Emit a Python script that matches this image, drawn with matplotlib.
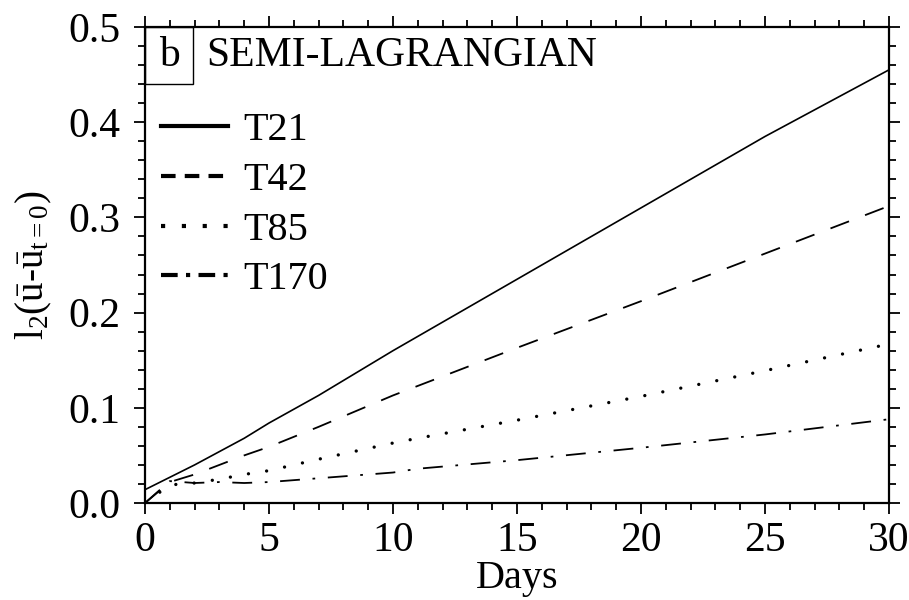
import numpy as np
import matplotlib
matplotlib.use('Agg')
import matplotlib.pyplot as plt
from matplotlib.patches import Rectangle
from matplotlib.ticker import MultipleLocator

plt.rcParams['font.family'] = ['Liberation Serif', 'DejaVu Serif']
plt.rcParams['mathtext.fontset'] = 'custom'
plt.rcParams['mathtext.rm'] = 'Liberation Serif'
plt.rcParams['mathtext.it'] = 'Liberation Serif:italic'

days = [0, 1, 2, 3, 4, 5, 7, 10, 11, 15, 20, 25, 30]
t21 = [0.014, 0.027, 0.040, 0.054, 0.068, 0.084, 0.113, 0.160, 0.175, 0.235, 0.310, 0.385, 0.455]
t42 = [0.000, 0.022, 0.030, 0.040, 0.050, 0.059, 0.080, 0.113, 0.123, 0.163, 0.212, 0.262, 0.312]
t85 = [0.000, 0.019, 0.021, 0.025, 0.030, 0.034, 0.046, 0.063, 0.068, 0.087, 0.112, 0.139, 0.167]
t170 = [0.000, 0.023, 0.021, 0.022, 0.021, 0.022, 0.026, 0.032, 0.036, 0.045, 0.058, 0.072, 0.088]
labels = ['T21', 'T42', 'T85', 'T170']

fig = plt.figure(figsize=(9.09, 6), dpi=100)
ax = fig.add_axes([145/909, 1-503/600, (889-145)/909, (503-27)/600])

ax.plot(days, t21, color='k', lw=1.2, linestyle='-')
ax.plot(days, t42, color='k', lw=1.3, linestyle=(0, (11, 9.5)))
ax.plot(days, t85, color='k', lw=2.4, linestyle=(0, (0.01, 5.5)), dash_capstyle='round')
ax.plot(days, t170, color='k', lw=1.3, linestyle=(0, (11, 7, 1.5, 7)))

ax.set_xlim(0, 30)
ax.set_ylim(0, 0.5)
ax.xaxis.set_major_locator(MultipleLocator(5))
ax.xaxis.set_minor_locator(MultipleLocator(1))
ax.yaxis.set_major_locator(MultipleLocator(0.1))
ax.yaxis.set_minor_locator(MultipleLocator(0.02))
ax.yaxis.set_major_formatter(plt.FormatStrFormatter('%.1f'))
ax.tick_params(which='both', direction='out', top=True, right=True, width=1.3,
               labelsize=30)
ax.tick_params(axis='y', pad=10)
ax.tick_params(axis='x', pad=5)
ax.tick_params(which='major', length=8)
ax.tick_params(which='minor', length=5)
for s in ax.spines.values():
    s.set_linewidth(1.6)

ax.set_xlabel('Days', fontsize=29, labelpad=0)
ax.set_ylabel(r'l$_2$($\bar{\mathrm{u}}$-$\bar{\mathrm{u}}_{\mathrm{t=0}}$)', fontsize=28, labelpad=10)

ax.add_patch(Rectangle((0, 1 - 57/476), 48/744, 57/476, transform=ax.transAxes,
                       fill=False, edgecolor='k', lw=1))
ax.text(24/744, 1 - 29/476, 'b', transform=ax.transAxes, fontsize=30,
        ha='center', va='center')
ax.text(61/744, 1 - 29/476, 'SEMI-LAGRANGIAN', transform=ax.transAxes,
        fontsize=30, ha='left', va='center')

leg_lines = []
for ls in ['-', (0, (3.5, 2.2)), (0, (1, 4)), (0, (4, 2, 1, 2))]:
    l, = ax.plot([], [], color='k', lw=3, linestyle=ls)
    leg_lines.append(l)
ax.legend(leg_lines, labels, loc='upper left', bbox_to_anchor=(0.0, 0.855),
          frameon=False, fontsize=29, handlelength=1.67, handletextpad=0.37,
          labelspacing=0.31, borderaxespad=0)

fig.savefig('out.png', dpi=100)
